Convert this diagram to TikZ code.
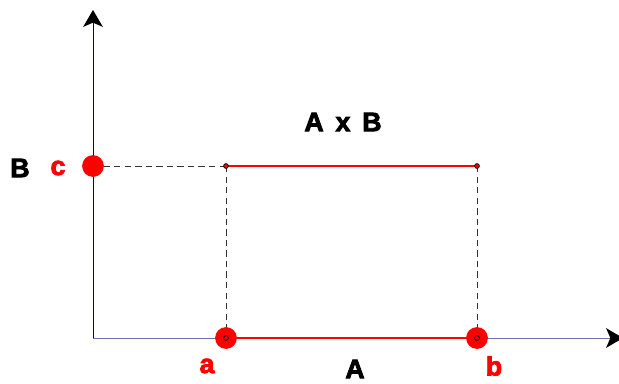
\documentclass[tikz,border=0pt]{standalone}
\usepackage{fontspec}
\setmainfont{Liberation Sans}
\newfontfamily\heavyfont{Liberation Sans}[BoldFeatures={FakeBold=3,WordSpace=1.6}]
\usetikzlibrary{arrows.meta}
\definecolor{ptred}{RGB}{255,0,0}
\definecolor{axblue}{RGB}{110,110,180}
\definecolor{axdark}{RGB}{20,10,50}
\definecolor{guidegray}{RGB}{50,50,50}
\tikzset{
  bigdot/.style={circle,fill=ptred,minimum size=15.5pt,inner sep=0pt},
  tinydot/.style={circle,draw=black,fill=ptred,minimum size=3.4pt,inner sep=0pt,line width=0.5pt},
  lbl/.style={font=\heavyfont\fontsize{19}{19}\selectfont\bfseries,inner sep=0pt},
  redlbl/.style={lbl,text=ptred},
  axis/.style={-{Stealth[length=12pt,width=14pt,inset=3pt,color=black]},line width=0.7pt},
  seg/.style={draw=ptred,line width=2pt},
  guide/.style={dash pattern=on 4.5pt off 3pt,draw=guidegray,line width=0.6pt},
}
\begin{document}
\begin{tikzpicture}[x=0.025cm,y=0.025cm]
  \useasboundingbox (0,0) rectangle (619,383);
  % axes
  \coordinate (O) at (93,45);
  \coordinate (ytop) at (93,373);
  \coordinate (xend) at (623,45);
  \draw[axis,draw=axblue] (O) -- (xend);
  \draw[axis,draw=axdark] (O) -- (ytop);
  % points
  \coordinate (c) at (93,217);
  \coordinate (a) at (226,45);
  \coordinate (b) at (477,45);
  \coordinate (ac) at (226,217);
  \coordinate (bc) at (477,217);
  \draw[guide] (c) -- (ac);
  \draw[guide] (ac) -- (a);
  \draw[guide] (bc) -- (b);
  \draw[seg] (a) -- (b);
  \draw[seg] (ac) -- (bc);
  \node[bigdot] (cdot) at (c) {};
  \node[bigdot] (adot) at (a) {};
  \node[bigdot] (bdot) at (b) {};
  \node[tinydot] (adot0) at (a) {};
  \node[tinydot] (bdot0) at (b) {};
  \node[tinydot] (acdot) at (ac) {};
  \node[tinydot] (bcdot) at (bc) {};
  % labels
  \node[lbl] (setB) at (20,215) {B};
  \node[redlbl] (lc) at (58,215) {c};
  \node[redlbl] (la) at (207,17) {a};
  \node[lbl] (setA) at (355,14) {A};
  \node[redlbl] (lb) at (494,17) {b};
  \node[lbl] (prod) at (343,261) {A x B};
\end{tikzpicture}
\end{document}
